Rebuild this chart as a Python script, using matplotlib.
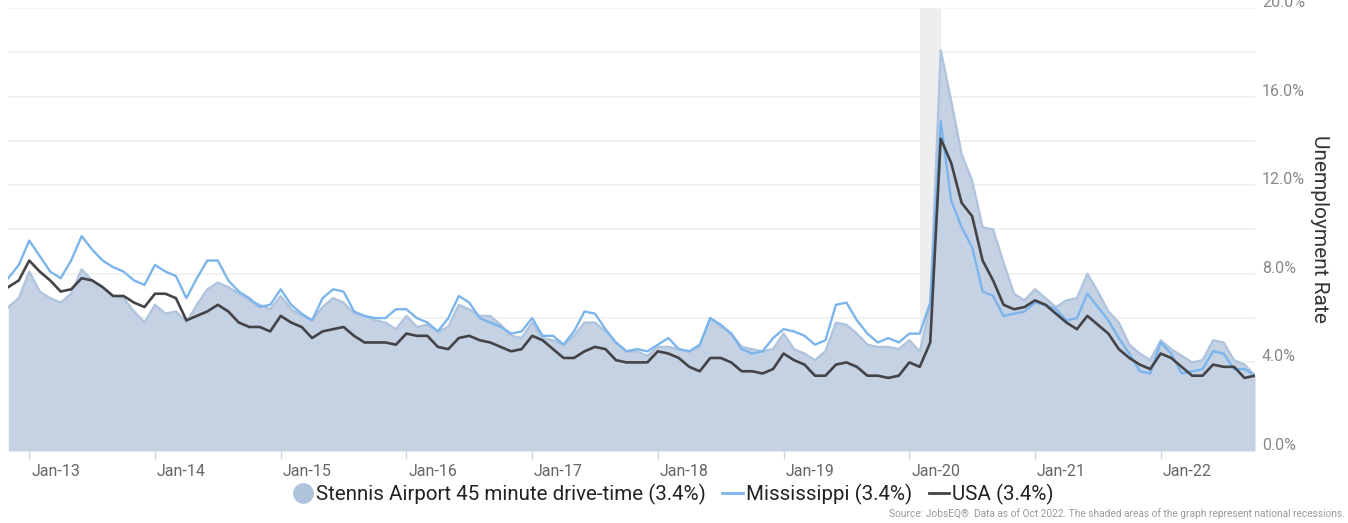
import matplotlib
matplotlib.use("Agg")
import matplotlib.pyplot as plt
import matplotlib.transforms as mtransforms
from matplotlib.lines import Line2D
from matplotlib import font_manager
import numpy as np

# monthly unemployment rate, Nov 2012 .. Oct 2022
stennis = [
    6.5, 6.9, 8.1, 7.2, 6.9, 6.7, 7.1, 8.2, 7.7, 7.4, 7.0, 6.9, 6.3, 5.8, 6.6, 6.2, 6.3, 5.8, 6.6, 7.3,
    7.6, 7.4, 7.1, 6.8, 6.6, 6.4, 7.0, 6.4, 6.1, 5.9, 6.5, 6.9, 6.7, 6.2, 6.1, 5.9, 5.8, 5.5, 6.1, 5.6,
    5.7, 5.4, 5.6, 6.6, 6.4, 6.1, 6.1, 5.7, 5.2, 5.1, 5.8, 5.1, 5.0, 4.8, 5.2, 5.8, 5.8, 5.4, 4.9, 4.5,
    4.5, 4.3, 4.7, 4.7, 4.6, 4.5, 4.7, 6.0, 5.6, 5.3, 4.7, 4.6, 4.5, 4.6, 5.3, 4.6, 4.4, 4.1, 4.5, 5.8,
    5.7, 5.3, 4.8, 4.7, 4.7, 4.6, 5.0, 4.5, 6.5, 18.1, 15.8, 13.4, 12.2, 10.1, 10.0, 8.5, 7.1, 6.8, 7.3, 6.9,
    6.5, 6.8, 6.9, 8.0, 7.2, 6.3, 5.8, 4.8, 4.4, 4.1, 5.0, 4.6, 4.3, 4.0, 4.1, 5.0, 4.9, 4.1, 3.9, 3.4,
]
mississippi = [
    7.8, 8.4, 9.5, 8.8, 8.1, 7.8, 8.6, 9.7, 9.1, 8.6, 8.3, 8.1, 7.7, 7.5, 8.4, 8.1, 7.9, 6.9, 7.8, 8.6,
    8.6, 7.7, 7.2, 6.9, 6.5, 6.6, 7.3, 6.6, 6.2, 5.9, 6.9, 7.3, 7.2, 6.3, 6.1, 6.0, 6.0, 6.4, 6.4, 6.0,
    5.8, 5.4, 6.0, 7.0, 6.7, 6.0, 5.8, 5.6, 5.3, 5.4, 6.0, 5.2, 5.2, 4.8, 5.4, 6.3, 6.2, 5.5, 4.9, 4.5,
    4.6, 4.5, 4.8, 5.1, 4.6, 4.5, 4.8, 6.0, 5.7, 5.3, 4.6, 4.4, 4.5, 5.1, 5.5, 5.4, 5.2, 4.8, 5.0, 6.6,
    6.7, 5.9, 5.3, 4.9, 5.1, 4.9, 5.3, 5.3, 6.7, 14.9, 11.3, 10.1, 9.2, 7.2, 7.0, 6.1, 6.2, 6.3, 6.7, 6.6,
    6.4, 5.9, 6.0, 7.1, 6.5, 5.9, 5.1, 4.4, 3.6, 3.5, 4.9, 4.4, 3.5, 3.6, 3.7, 4.5, 4.4, 3.7, 3.7, 3.4,
]
usa = [
    7.4, 7.7, 8.6, 8.1, 7.7, 7.2, 7.3, 7.8, 7.7, 7.4, 7.0, 7.0, 6.7, 6.5, 7.1, 7.1, 6.9, 5.9, 6.1, 6.3,
    6.6, 6.3, 5.8, 5.6, 5.6, 5.4, 6.1, 5.8, 5.6, 5.1, 5.4, 5.5, 5.6, 5.2, 4.9, 4.9, 4.9, 4.8, 5.3, 5.2,
    5.2, 4.7, 4.6, 5.1, 5.2, 5.0, 4.9, 4.7, 4.5, 4.6, 5.2, 5.0, 4.6, 4.2, 4.2, 4.5, 4.7, 4.6, 4.1, 4.0,
    4.0, 4.0, 4.5, 4.4, 4.2, 3.8, 3.6, 4.2, 4.2, 4.0, 3.6, 3.6, 3.5, 3.7, 4.4, 4.1, 3.9, 3.4, 3.4, 3.9,
    4.0, 3.8, 3.4, 3.4, 3.3, 3.4, 4.0, 3.8, 4.9, 14.1, 13.0, 11.2, 10.6, 8.6, 7.7, 6.6, 6.4, 6.5, 6.8, 6.6,
    6.2, 5.8, 5.5, 6.1, 5.7, 5.3, 4.6, 4.2, 3.9, 3.7, 4.4, 4.2, 3.8, 3.4, 3.4, 3.9, 3.8, 3.8, 3.3, 3.4,
]
year_labels = ["Jan-13", "Jan-14", "Jan-15", "Jan-16", "Jan-17",
               "Jan-18", "Jan-19", "Jan-20", "Jan-21", "Jan-22"]
first_jan = 2          # index of Jan-13 (series starts Nov 2012)
recession = (87, 89)   # Feb 2020 .. Apr 2020

names = {f.name for f in font_manager.fontManager.ttflist}
font = "Roboto" if "Roboto" in names else "DejaVu Sans"
plt.rcParams["font.family"] = [font, "DejaVu Sans"]

area_line = "#b0c4de"
area_fill = "#c4d2e4"
ms_color = "#7cb5ec"
us_color = "#434348"

W, H = 1348, 523
fig = plt.figure(figsize=(W / 100, H / 100), dpi=100)
ax = fig.add_axes([8.3 / W, (H - 451) / H, (1255 - 8.3) / W, 443 / H])

x = np.arange(len(stennis))
ax.axvspan(recession[0], recession[1], color="#eeeeee", zorder=1, lw=0)
ax.fill_between(x, stennis, 0, color=area_fill, lw=0, zorder=2)
ax.plot(x, stennis, color=area_line, lw=1.7, zorder=2.1)
ax.plot(x, mississippi, color=ms_color, lw=1.7, zorder=3)
ax.plot(x, usa, color=us_color, lw=1.9, zorder=4)

ax.set_xlim(0, len(stennis) - 1)
ax.set_ylim(0, 20)
for s in ax.spines.values():
    s.set_visible(False)

# horizontal grid every 2%, labels every 4%
ax.set_yticks(np.arange(0, 21, 4))
ax.set_yticks(np.arange(0, 21, 2), minor=True)
ax.set_yticklabels([f"{v:.1f}%" for v in np.arange(0, 21, 4)])
ax.grid(axis="y", which="both", color="#f0f0f0", lw=1.2, zorder=0)
ax.set_axisbelow(True)
ax.yaxis.tick_right()
ax.tick_params(axis="y", which="both", length=0, pad=5, labelsize=11.5, labelcolor="#888888")
for lbl in ax.get_yticklabels():
    lbl.set_horizontalalignment("left")
    lbl.set_transform(lbl.get_transform() + mtransforms.ScaledTranslation(0, 7 / 100, fig.dpi_scale_trans))

xt = [first_jan + 12 * k for k in range(len(year_labels))]
ax.set_xticks(xt)
ax.set_xticklabels(year_labels)
ax.tick_params(axis="x", length=6, width=1, color="#ccd6eb", pad=3, labelsize=11.5, labelcolor="#666666")
for lbl in ax.get_xticklabels():
    lbl.set_horizontalalignment("left")
    lbl.set_transform(lbl.get_transform() + mtransforms.ScaledTranslation(2 / 100, 0, fig.dpi_scale_trans))

fig.text(1320 / W, 1 - 229 / H, "Unemployment Rate", rotation=-90, ha="center", va="center",
         fontsize=15, color="#333333")

handles = [
    Line2D([], [], ls="none", marker="o", markersize=15, color=area_line, markeredgewidth=0),
    Line2D([], [], color=ms_color, lw=2),
    Line2D([], [], color=us_color, lw=2),
]
labels = ["Stennis Airport 45 minute drive-time (3.4%)", "Mississippi (3.4%)", "USA (3.4%)"]
fig.legend(handles, labels, loc="center", bbox_to_anchor=(673 / W, 1 - 494 / H), ncol=3,
           frameon=False, fontsize=14.8, handlelength=1.0, handletextpad=0.15, columnspacing=0.8,
           labelcolor="#222222")

fig.text(1345 / W, 1 - 514 / H,
         "Source: JobsEQ\u00ae. Data as of Oct 2022. The shaded areas of the graph represent national recessions.",
         ha="right", va="center", fontsize=7.3, color="#999999")

fig.savefig("out.png", dpi=100)
